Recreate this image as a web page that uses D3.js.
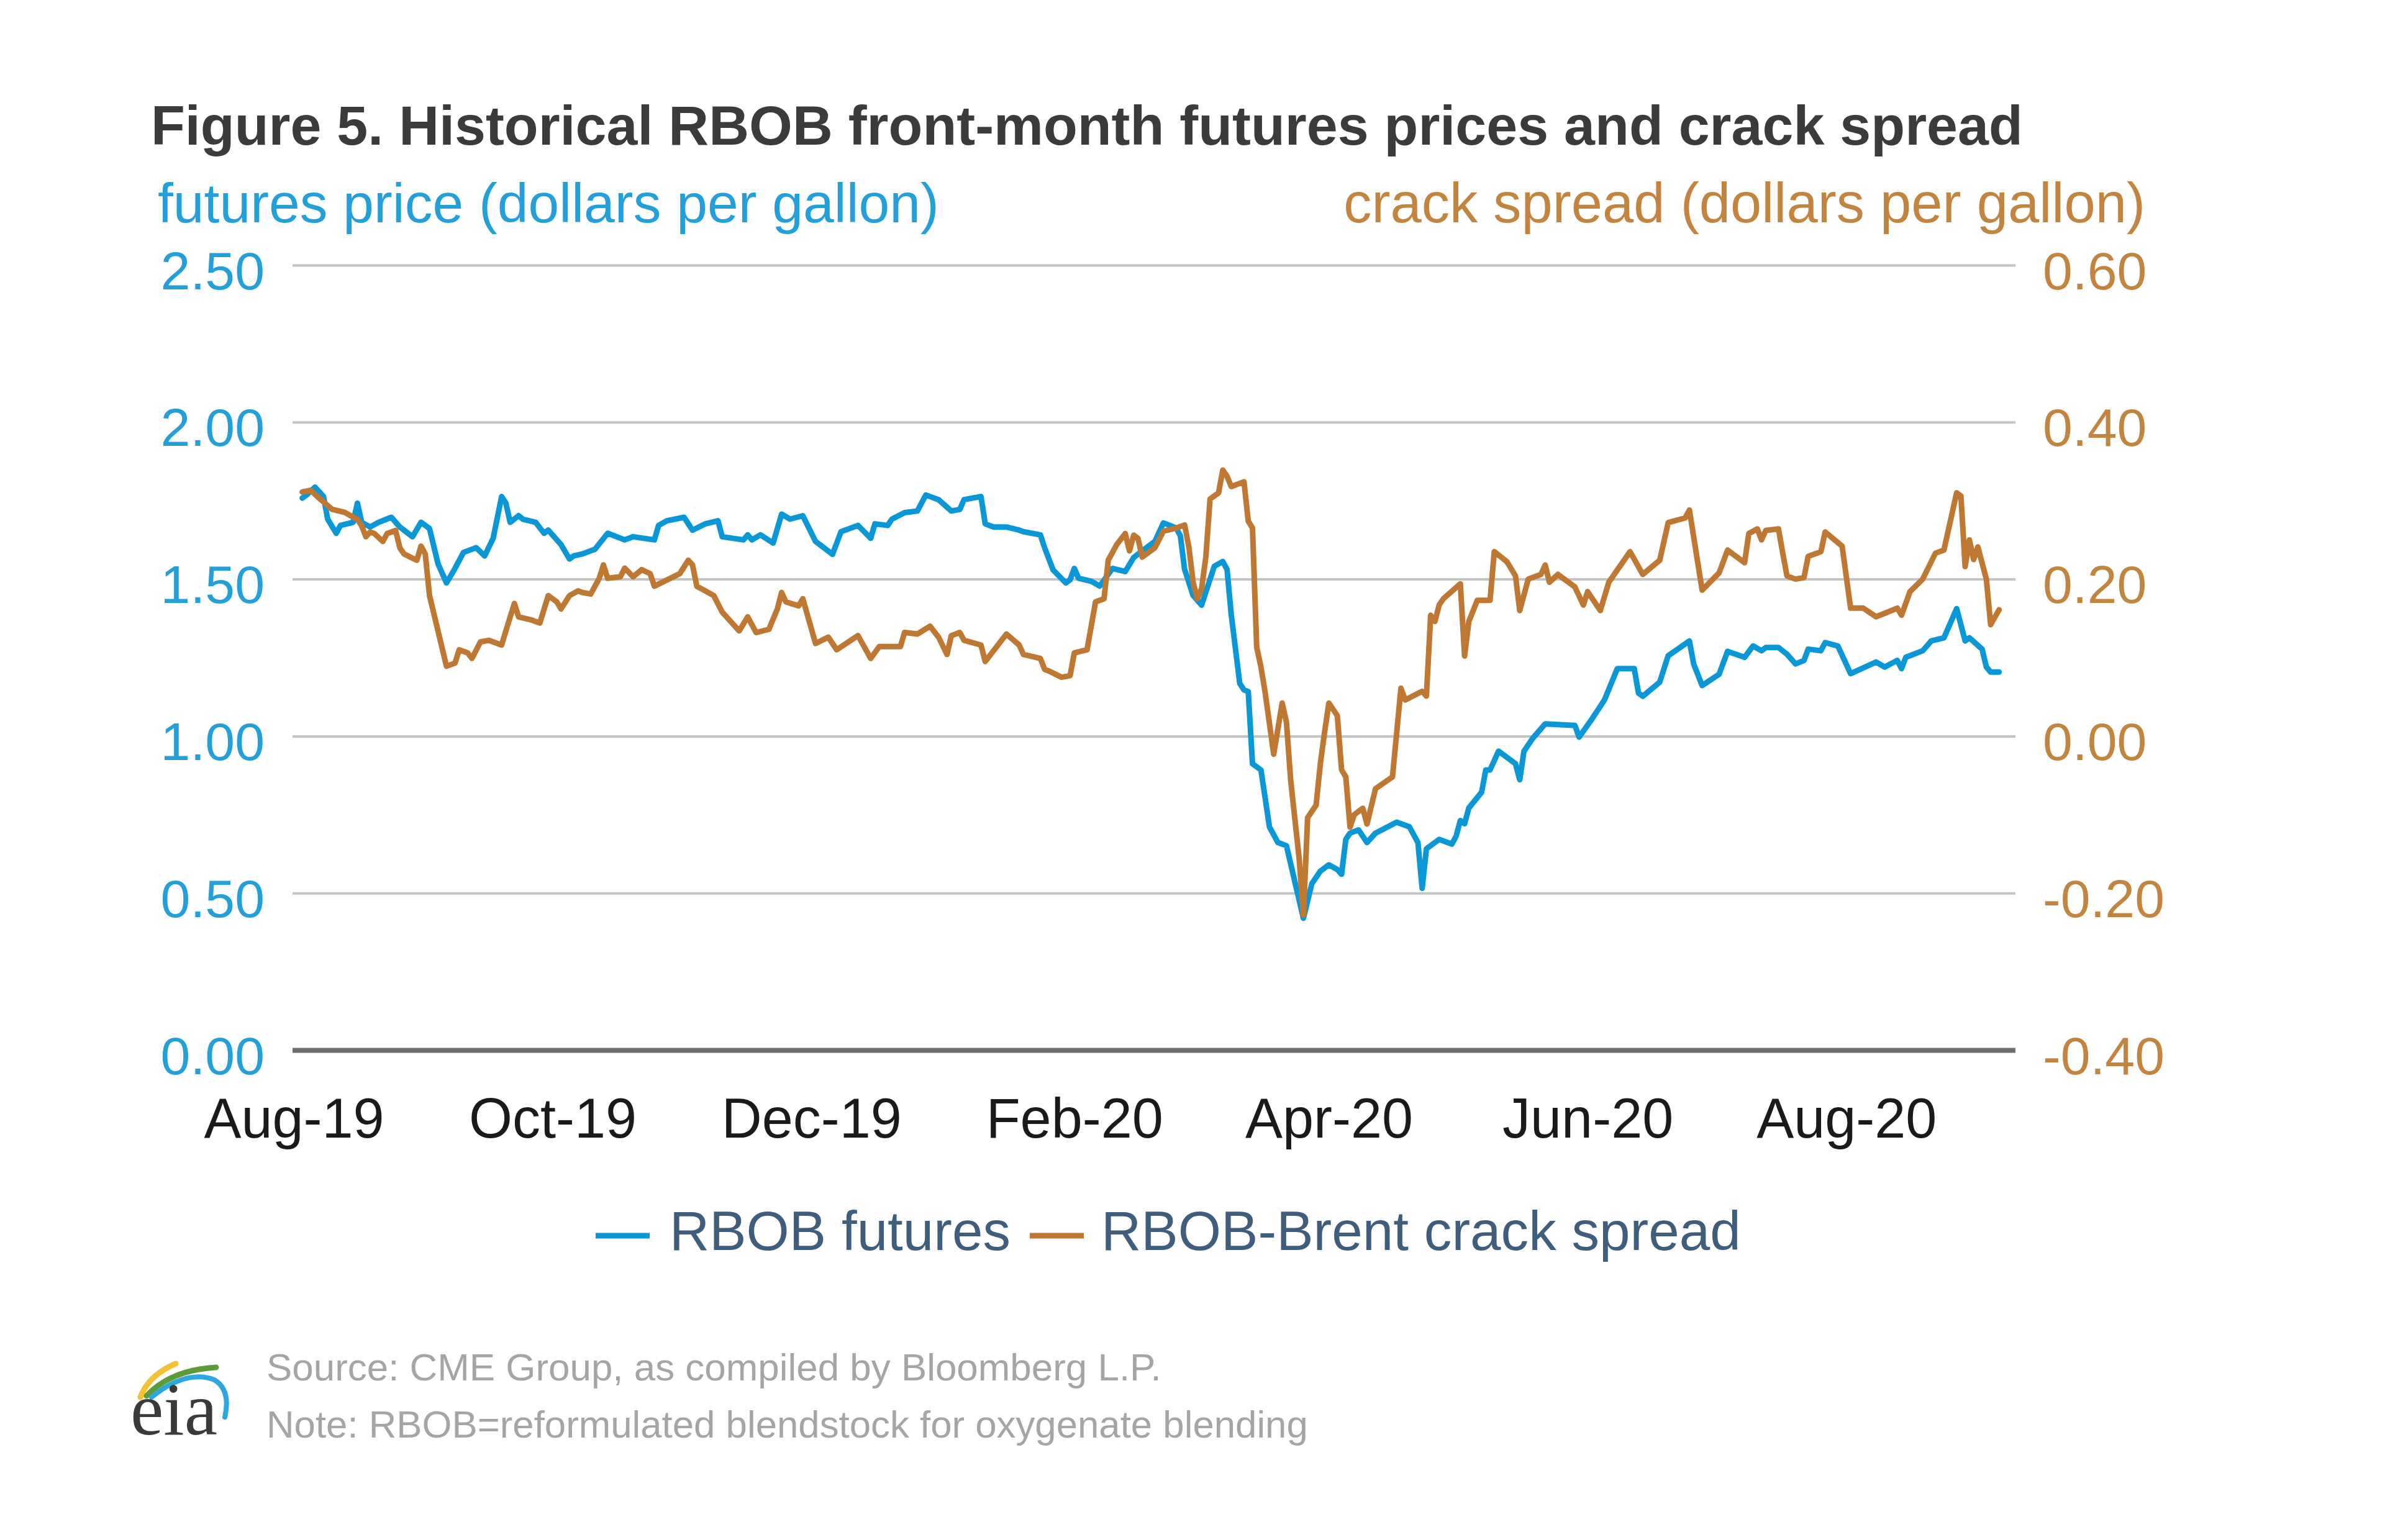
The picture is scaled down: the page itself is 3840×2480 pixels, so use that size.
<!DOCTYPE html>
<html>
<head>
<meta charset="utf-8">
<script src="https://cdn.jsdelivr.net/npm/d3@7"></script>
<style>
  html, body { margin: 0; padding: 0; background: #ffffff; }
  svg { display: block; }
</style>
</head>
<body>
<svg id="chart" width="3840" height="2480"></svg>
<script>
// ---------------- DATA ----------------
const titleText = "Figure 5. Historical RBOB front-month futures prices and crack spread";
const leftAxisTitle = "futures price (dollars per gallon)";
const rightAxisTitle = "crack spread (dollars per gallon)";
const seriesNames = ["RBOB futures", "RBOB-Brent crack spread"];
const sourceText = "Source: CME Group, as compiled by Bloomberg L.P.";
const noteText = "Note: RBOB=reformulated blendstock for oxygenate blending";

const xTickDates = ["2019-08-01", "2019-10-01", "2019-12-01", "2020-02-01", "2020-04-01", "2020-06-01", "2020-08-01"];
const xTickLabels = ["Aug-19", "Oct-19", "Dec-19", "Feb-20", "Apr-20", "Jun-20", "Aug-20"];
const leftTicks = [0, 0.5, 1.0, 1.5, 2.0, 2.5];
const rightTicks = [-0.4, -0.2, 0.0, 0.2, 0.4, 0.6];

// RBOB front-month futures (dollars per gallon)
const futuresSeries = [
  ["2019-08-03",1.758],["2019-08-04",1.768],["2019-08-06",1.793],["2019-08-08",1.763],["2019-08-09",1.691],
  ["2019-08-11",1.646],["2019-08-12",1.671],["2019-08-15",1.681],["2019-08-16",1.742],["2019-08-17",1.681],
  ["2019-08-19",1.666],["2019-08-21",1.681],["2019-08-24",1.697],["2019-08-26",1.666],["2019-08-29",1.635],
  ["2019-08-31",1.681],["2019-09-02",1.661],["2019-09-04",1.549],["2019-09-06",1.488],["2019-09-08",1.534],
  ["2019-09-10",1.585],["2019-09-13",1.600],["2019-09-15",1.574],["2019-09-17",1.630],["2019-09-19",1.763],
  ["2019-09-20",1.742],["2019-09-21",1.681],["2019-09-23",1.702],["2019-09-24",1.691],["2019-09-27",1.681],
  ["2019-09-29",1.646],["2019-09-30",1.656],["2019-10-03",1.610],["2019-10-05",1.564],["2019-10-06",1.574],
  ["2019-10-08",1.580],["2019-10-11",1.595],["2019-10-14",1.646],["2019-10-18",1.625],["2019-10-20",1.635],
  ["2019-10-25",1.625],["2019-10-26",1.671],["2019-10-28",1.686],["2019-11-01",1.697],["2019-11-03",1.656],
  ["2019-11-06",1.676],["2019-11-09",1.686],["2019-11-10",1.635],["2019-11-15",1.625],["2019-11-16",1.641],
  ["2019-11-17",1.625],["2019-11-19",1.641],["2019-11-22",1.615],["2019-11-24",1.707],["2019-11-26",1.691],
  ["2019-11-29",1.702],["2019-12-02",1.620],["2019-12-06",1.579],["2019-12-08",1.651],["2019-12-12",1.671],
  ["2019-12-15",1.630],["2019-12-16",1.676],["2019-12-19",1.671],["2019-12-20",1.691],["2019-12-23",1.712],
  ["2019-12-26",1.717],["2019-12-28",1.768],["2019-12-31",1.753],["2020-01-03",1.717],["2020-01-05",1.722],
  ["2020-01-06",1.753],["2020-01-10",1.763],["2020-01-11",1.676],["2020-01-13",1.666],["2020-01-16",1.666],
  ["2020-01-19",1.656],["2020-01-20",1.651],["2020-01-24",1.641],["2020-01-25",1.600],["2020-01-27",1.529],
  ["2020-01-30",1.488],["2020-01-31",1.498],["2020-02-01",1.534],["2020-02-02",1.503],["2020-02-05",1.493],
  ["2020-02-07",1.478],["2020-02-10",1.534],["2020-02-13",1.524],["2020-02-15",1.569],["2020-02-17",1.590],
  ["2020-02-20",1.620],["2020-02-22",1.679],["2020-02-25",1.663],["2020-02-26",1.638],["2020-02-27",1.531],
  ["2020-02-29",1.448],["2020-03-02",1.417],["2020-03-03",1.459],["2020-03-05",1.541],["2020-03-07",1.556],
  ["2020-03-08",1.531],["2020-03-09",1.386],["2020-03-11",1.168],["2020-03-12",1.147],["2020-03-13",1.142],
  ["2020-03-14",0.912],["2020-03-16",0.892],["2020-03-18",0.711],["2020-03-20",0.661],["2020-03-22",0.651],
  ["2020-03-26",0.420],["2020-03-28",0.530],["2020-03-30",0.570],["2020-04-01",0.590],["2020-04-03",0.575],
  ["2020-04-04",0.560],["2020-04-05",0.671],["2020-04-06",0.691],["2020-04-08",0.701],["2020-04-10",0.661],
  ["2020-04-12",0.691],["2020-04-17",0.726],["2020-04-20",0.711],["2020-04-22",0.661],["2020-04-23",0.515],
  ["2020-04-24",0.641],["2020-04-27",0.671],["2020-04-30",0.656],["2020-05-01",0.681],["2020-05-02",0.731],
  ["2020-05-03",0.721],["2020-05-04",0.771],["2020-05-07",0.821],["2020-05-08",0.892],["2020-05-09",0.892],
  ["2020-05-11",0.952],["2020-05-15",0.912],["2020-05-16",0.861],["2020-05-17",0.952],["2020-05-19",0.992],
  ["2020-05-22",1.039],["2020-05-29",1.034],["2020-05-30",0.997],["2020-06-02",1.054],["2020-06-04",1.095],
  ["2020-06-05",1.116],["2020-06-08",1.215],["2020-06-12",1.215],["2020-06-13",1.137],["2020-06-14",1.127],
  ["2020-06-18",1.172],["2020-06-20",1.256],["2020-06-25",1.303],["2020-06-26",1.230],["2020-06-28",1.161],
  ["2020-07-02",1.197],["2020-07-04",1.270],["2020-07-08",1.251],["2020-07-10",1.287],["2020-07-12",1.272],
  ["2020-07-13",1.282],["2020-07-16",1.282],["2020-07-18",1.261],["2020-07-20",1.230],["2020-07-22",1.241],
  ["2020-07-23",1.277],["2020-07-26",1.272],["2020-07-27",1.298],["2020-07-30",1.287],["2020-08-02",1.199],
  ["2020-08-08",1.236],["2020-08-10",1.220],["2020-08-13",1.241],["2020-08-14",1.215],["2020-08-15",1.251],
  ["2020-08-19",1.272],["2020-08-21",1.303],["2020-08-24",1.313],["2020-08-27",1.406],["2020-08-29",1.303],
  ["2020-08-30",1.313],["2020-09-02",1.277],["2020-09-03",1.220],["2020-09-04",1.204],["2020-09-06",1.204]
];

// RBOB-Brent crack spread (dollars per gallon)
const crackSeries = [
  ["2019-08-03",0.311],["2019-08-05",0.313],["2019-08-07",0.303],["2019-08-10",0.289],["2019-08-13",0.285],
  ["2019-08-16",0.276],["2019-08-17",0.268],["2019-08-18",0.254],["2019-08-19",0.260],["2019-08-20",0.258],
  ["2019-08-22",0.248],["2019-08-23",0.258],["2019-08-25",0.262],["2019-08-26",0.240],["2019-08-27",0.232],
  ["2019-08-30",0.224],["2019-08-31",0.242],["2019-09-01",0.232],["2019-09-02",0.179],["2019-09-04",0.134],
  ["2019-09-06",0.089],["2019-09-08",0.093],["2019-09-09",0.110],["2019-09-11",0.106],["2019-09-12",0.099],
  ["2019-09-14",0.120],["2019-09-16",0.122],["2019-09-17",0.120],["2019-09-19",0.116],["2019-09-20",0.134],
  ["2019-09-22",0.169],["2019-09-23",0.152],["2019-09-26",0.148],["2019-09-28",0.144],["2019-09-30",0.179],
  ["2019-10-02",0.171],["2019-10-03",0.162],["2019-10-05",0.179],["2019-10-07",0.185],["2019-10-08",0.183],
  ["2019-10-10",0.181],["2019-10-12",0.201],["2019-10-13",0.218],["2019-10-14",0.201],["2019-10-17",0.203],
  ["2019-10-18",0.214],["2019-10-20",0.203],["2019-10-22",0.212],["2019-10-24",0.207],["2019-10-25",0.191],
  ["2019-10-28",0.199],["2019-10-31",0.207],["2019-11-02",0.224],["2019-11-03",0.218],["2019-11-04",0.191],
  ["2019-11-08",0.179],["2019-11-10",0.158],["2019-11-14",0.134],["2019-11-16",0.152],["2019-11-18",0.132],
  ["2019-11-21",0.136],["2019-11-23",0.162],["2019-11-24",0.183],["2019-11-25",0.171],["2019-11-28",0.166],
  ["2019-11-29",0.175],["2019-12-02",0.118],["2019-12-05",0.126],["2019-12-07",0.110],["2019-12-12",0.128],
  ["2019-12-15",0.099],["2019-12-17",0.114],["2019-12-22",0.114],["2019-12-23",0.132],["2019-12-26",0.130],
  ["2019-12-29",0.140],["2019-12-31",0.126],["2020-01-02",0.104],["2020-01-03",0.128],["2020-01-05",0.132],
  ["2020-01-06",0.122],["2020-01-10",0.116],["2020-01-11",0.095],["2020-01-16",0.130],["2020-01-19",0.116],
  ["2020-01-20",0.104],["2020-01-24",0.099],["2020-01-25",0.085],["2020-01-26",0.083],["2020-01-29",0.075],
  ["2020-01-31",0.077],["2020-02-01",0.106],["2020-02-04",0.110],["2020-02-06",0.171],["2020-02-08",0.175],
  ["2020-02-09",0.224],["2020-02-11",0.244],["2020-02-13",0.258],["2020-02-14",0.236],["2020-02-15",0.256],
  ["2020-02-16",0.252],["2020-02-17",0.228],["2020-02-20",0.240],["2020-02-22",0.261],["2020-02-25",0.265],
  ["2020-02-27",0.269],["2020-02-28",0.241],["2020-02-29",0.196],["2020-03-01",0.175],["2020-03-02",0.188],
  ["2020-03-03",0.228],["2020-03-04",0.302],["2020-03-06",0.310],["2020-03-07",0.339],["2020-03-08",0.331],
  ["2020-03-09",0.318],["2020-03-12",0.324],["2020-03-13",0.274],["2020-03-14",0.265],["2020-03-15",0.113],
  ["2020-03-16",0.088],["2020-03-17",0.055],["2020-03-19",-0.023],["2020-03-21",0.042],["2020-03-22",0.018],
  ["2020-03-23",-0.056],["2020-03-25",-0.156],["2020-03-26",-0.228],["2020-03-27",-0.104],["2020-03-29",-0.088],
  ["2020-03-30",-0.035],["2020-03-31",0.005],["2020-04-01",0.042],["2020-04-03",0.026],["2020-04-04",-0.043],
  ["2020-04-05",-0.052],["2020-04-06",-0.116],["2020-04-07",-0.100],["2020-04-09",-0.092],["2020-04-10",-0.112],
  ["2020-04-12",-0.067],["2020-04-16",-0.052],["2020-04-18",0.061],["2020-04-19",0.046],["2020-04-23",0.057],
  ["2020-04-24",0.051],["2020-04-25",0.154],["2020-04-26",0.146],["2020-04-27",0.167],["2020-04-28",0.175],
  ["2020-05-02",0.194],["2020-05-03",0.102],["2020-05-04",0.146],["2020-05-06",0.173],["2020-05-09",0.173],
  ["2020-05-10",0.235],["2020-05-13",0.222],["2020-05-15",0.204],["2020-05-16",0.160],["2020-05-18",0.200],
  ["2020-05-21",0.206],["2020-05-22",0.218],["2020-05-23",0.196],["2020-05-25",0.206],["2020-05-29",0.190],
  ["2020-05-31",0.167],["2020-06-01",0.184],["2020-06-04",0.160],["2020-06-06",0.196],["2020-06-11",0.235],
  ["2020-06-14",0.206],["2020-06-18",0.224],["2020-06-20",0.272],["2020-06-24",0.278],["2020-06-25",0.288],
  ["2020-06-28",0.186],["2020-07-02",0.208],["2020-07-04",0.237],["2020-07-08",0.221],["2020-07-09",0.258],
  ["2020-07-11",0.264],["2020-07-12",0.250],["2020-07-13",0.262],["2020-07-16",0.264],["2020-07-17",0.233],
  ["2020-07-18",0.204],["2020-07-20",0.200],["2020-07-22",0.202],["2020-07-23",0.229],["2020-07-26",0.235],
  ["2020-07-27",0.260],["2020-07-31",0.242],["2020-08-02",0.163],["2020-08-05",0.163],["2020-08-08",0.152],
  ["2020-08-13",0.163],["2020-08-14",0.154],["2020-08-16",0.184],["2020-08-19",0.200],["2020-08-22",0.233],
  ["2020-08-24",0.237],["2020-08-27",0.310],["2020-08-28",0.306],["2020-08-29",0.216],["2020-08-30",0.250],
  ["2020-08-31",0.225],["2020-09-01",0.241],["2020-09-03",0.200],["2020-09-04",0.142],["2020-09-06",0.161]
];

// ---------------- STYLE / LAYOUT ----------------
const FONT = "'Liberation Sans', Arial, sans-serif";
const BLUE_LINE = "#0A97D6", BLUE_TEXT = "#23A0DA";
const ORANGE_LINE = "#BE7832", ORANGE_TEXT = "#C3843F";
const plot = { left: 471, right: 3245, top: 427, bottom: 1691 };

const parse = d3.utcParse("%Y-%m-%d");
const svg = d3.select("#chart");
svg.append("rect").attr("width", 3840).attr("height", 2480).attr("fill", "#ffffff");

const x = d3.scaleUtc()
  .domain([parse("2019-08-01"), parse("2020-09-10")])
  .range([473, 473 + 406 * 6.83]);
const yL = d3.scaleLinear().domain([0, 2.5]).range([plot.bottom, plot.top]);
const yR = d3.scaleLinear().domain([-0.4, 0.6]).range([plot.bottom, plot.top]);

function fitWidth(sel, target) {
  const w = sel.node().getComputedTextLength();
  const fs = parseFloat(sel.attr("font-size"));
  sel.attr("font-size", fs * target / w);
}

// Title
const title = svg.append("text").attr("x", 243).attr("y", 233)
  .attr("font-family", FONT).attr("font-weight", "bold").attr("font-size", 88)
  .attr("fill", "#3B3B3B").text(titleText);
fitWidth(title, 3014);

// Axis titles
const lt = svg.append("text").attr("x", 254).attr("y", 358)
  .attr("font-family", FONT).attr("font-size", 88).attr("fill", BLUE_TEXT).text(leftAxisTitle);
fitWidth(lt, 1258);
const rt = svg.append("text").attr("x", 3454).attr("y", 358).attr("text-anchor", "end")
  .attr("font-family", FONT).attr("font-size", 88).attr("fill", ORANGE_TEXT).text(rightAxisTitle);
fitWidth(rt, 1291);

// Gridlines + left axis
const fmt2 = d => d.toFixed(2);
const gLeft = svg.append("g").attr("transform", `translate(${plot.left},0)`)
  .call(d3.axisLeft(yL).tickValues(leftTicks).tickFormat(fmt2)
    .tickSize(-(plot.right - plot.left)).tickPadding(45));
gLeft.select(".domain").remove();
gLeft.selectAll(".tick line")
  .attr("stroke", d => d === 0 ? "#6F6F6F" : "#C4C4C4")
  .attr("stroke-width", d => d === 0 ? 8 : 4);
gLeft.selectAll(".tick text")
  .attr("font-family", FONT).attr("font-size", 86).attr("fill", BLUE_TEXT)
  .attr("dy", null).attr("y", 38);

// Right axis
const gRight = svg.append("g").attr("transform", `translate(${plot.right},0)`)
  .call(d3.axisRight(yR).tickValues(rightTicks).tickFormat(fmt2).tickSize(0).tickPadding(44));
gRight.select(".domain").remove();
gRight.selectAll(".tick text")
  .attr("font-family", FONT).attr("font-size", 86).attr("fill", ORANGE_TEXT)
  .attr("dy", null).attr("y", 38);

// X axis
const tickDates = xTickDates.map(parse);
const gX = svg.append("g").attr("transform", `translate(0,${plot.bottom})`)
  .call(d3.axisBottom(x).tickValues(tickDates)
    .tickFormat((d, i) => xTickLabels[i]).tickSize(0));
gX.select(".domain").remove();
gX.selectAll(".tick text")
  .attr("font-family", FONT).attr("font-size", 90).attr("fill", "#1A1A1A")
  .attr("dy", null).attr("y", 141);

// Lines
const futures = futuresSeries.map(([d, v]) => ({ date: parse(d), v }));
const crack = crackSeries.map(([d, v]) => ({ date: parse(d), v }));

svg.append("path").datum(futures)
  .attr("fill", "none").attr("stroke", BLUE_LINE).attr("stroke-width", 9)
  .attr("stroke-linejoin", "round").attr("stroke-linecap", "round")
  .attr("d", d3.line().x(d => x(d.date)).y(d => yL(d.v)));

svg.append("path").datum(crack)
  .attr("fill", "none").attr("stroke", ORANGE_LINE).attr("stroke-width", 9)
  .attr("stroke-linejoin", "round").attr("stroke-linecap", "round")
  .attr("d", d3.line().x(d => x(d.date)).y(d => yR(d.v)));

// Legend
const LEG_TEXT = "#3F5D7D";
const legend = svg.append("g");
legend.append("line").attr("x1", 959).attr("x2", 1046).attr("y1", 1990).attr("y2", 1990)
  .attr("stroke", BLUE_LINE).attr("stroke-width", 9);
const l1 = legend.append("text").attr("x", 1078).attr("y", 2013)
  .attr("font-family", FONT).attr("font-size", 89).attr("fill", LEG_TEXT).text(seriesNames[0]);
fitWidth(l1, 549);
legend.append("line").attr("x1", 1658).attr("x2", 1745).attr("y1", 1990).attr("y2", 1990)
  .attr("stroke", ORANGE_LINE).attr("stroke-width", 9);
const l2 = legend.append("text").attr("x", 1773).attr("y", 2013)
  .attr("font-family", FONT).attr("font-size", 89).attr("fill", LEG_TEXT).text(seriesNames[1]);
fitWidth(l2, 1030);

// Source & note
const src = svg.append("text").attr("x", 429).attr("y", 2223)
  .attr("font-family", FONT).attr("font-size", 56).attr("fill", "#A5A5A5").text(sourceText);
fitWidth(src, 1441);
const note = svg.append("text").attr("x", 429).attr("y", 2315)
  .attr("font-family", FONT).attr("font-size", 56).attr("fill", "#A5A5A5").text(noteText);
fitWidth(note, 1677);

// eia logo
const logo = svg.append("g");
logo.append("path").attr("d", "M 226 2250 Q 240 2214 283 2196")
  .attr("fill", "none").attr("stroke", "#F4C132").attr("stroke-width", 9).attr("stroke-linecap", "round");
logo.append("path").attr("d", "M 236 2248 Q 275 2206 348 2202")
  .attr("fill", "none").attr("stroke", "#5C9B38").attr("stroke-width", 9).attr("stroke-linecap", "round");
logo.append("path").attr("d", "M 244 2250 Q 300 2205 345 2222 Q 372 2238 362 2282")
  .attr("fill", "none").attr("stroke", "#2BA8E0").attr("stroke-width", 8).attr("stroke-linecap", "round");
const eia = logo.append("text").attr("x", 210).attr("y", 2310)
  .attr("font-family", "'Liberation Serif', 'DejaVu Serif', serif").attr("font-size", 110)
  .attr("fill", "#3A3A3A").text("eia");
fitWidth(eia, 140);
</script>
</body>
</html>
